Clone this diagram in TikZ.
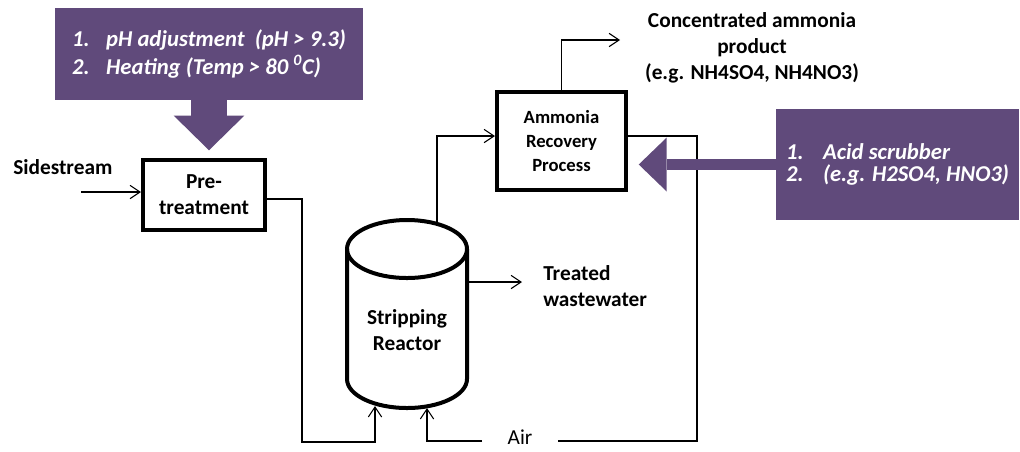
\documentclass[tikz,border=0pt]{standalone}
\usepackage{fontspec}
\setmainfont{Carlito}
\usetikzlibrary{arrows.meta,positioning}
\definecolor{infoviolet}{HTML}{604A7B}

\begin{document}
\begin{tikzpicture}[
  x=0.75pt, y=-0.75pt,
  every node/.style={font=\fontsize{16}{19.5}\selectfont\bfseries},
  unit/.style={rectangle, draw, line width=3pt, align=center, inner sep=0pt},
  info/.style={rectangle, fill=infoviolet, text=white, align=left, inner sep=0pt,
               font=\fontsize{17}{20.5}\selectfont\bfseries\itshape},
  note/.style={align=center, inner sep=0pt},
  stream/.style={-{Straight Barb[length=7.5pt, width=10pt]}, line width=0.8pt},
  pipe/.style={line width=0.8pt},
  vessel/.style={line width=3pt},
  blockarrow/.style={infoviolet, line width=#1},
]
\useasboundingbox (0,0) rectangle (1020,451);

% process units
\node[unit, minimum width=91.5pt, minimum height=52.5pt] (pre) at (204,195) {Pre-\\treatment};
\node[unit, minimum width=96.75pt, minimum height=73.5pt,
      font=\fontsize{14}{18}\selectfont\bfseries] (amm) at (561.5,141) {Ammonia\\Recovery\\Process};
\node[note] (reactor) at (407,330) {Stripping\\Reactor};
\draw[vessel] (347,249) -- (347,379) arc[start angle=180, end angle=0, x radius=60, y radius=29] -- (467,249);
\draw[vessel] (407,249) ellipse[x radius=60, y radius=29];

% operating conditions
\node[info, minimum width=231pt, minimum height=69pt] (heat) at (209,54)
  {\makebox[25.5pt][l]{1.}pH adjustment\ \ (pH > 9.3)\\[0pt]\makebox[25.5pt][l]{2.}Heating (Temp > 80 \textsuperscript{0}C)};
\node[info, minimum width=182.25pt, minimum height=83.25pt] (acid) at (897.5,164.5)
  {\makebox[27.75pt][l]{1.}Acid scrubber\\[-4pt]\makebox[27.75pt][l]{2.}(e.g. H2SO4, HNO3)};

% free ends of the streams
\coordinate (sidein) at (81,192);
\coordinate (feedturn) at (302,442);
\coordinate (rfeed) at (375,406);
\coordinate (rair) at (427,408);
\coordinate (rtop) at (437,223);
\coordinate (rside) at (467,282);
\coordinate (wasteend) at (522,282);
\coordinate (prodend) at (620,40);
\coordinate (loopturn) at (697,441);

% labels
\node[note, anchor=west] (side) at (13,167) {Sidestream};
\node[note] (prod) at (752,48) {Concentrated ammonia\\product\\(e.g. NH4SO4, NH4NO3)};
\node[note, align=left, right=15.75pt of wasteend, yshift=-3pt] (treated) {Treated\\wastewater};
\node[note, inner xsep=19pt, font=\fontsize{16}{19.5}\selectfont] (air) at (520,437) {Air};

% streams
\draw[stream] (sidein) -- (sidein -| pre.west);
\draw[stream] ([yshift=-3pt]pre.east) -| (feedturn) -| (rfeed);
\draw[stream] (rtop) |- ([yshift=3.75pt]amm.west);
\draw[stream] (amm.north) |- (prodend);
\draw[stream] (rside) -- (wasteend);
\draw[pipe] ([yshift=3.75pt]amm.east) -| (loopturn) -- (loopturn -| air.east);
\draw[stream] (air.west |- loopturn) -| (rair);

% block arrows
\draw[blockarrow=27pt, -{Triangle[length=26pt, width=53pt, line width=0pt]}] (heat.south) -- ++(0,50);
\draw[blockarrow=8.25pt, -{Triangle[length=21pt, width=40.5pt, line width=0pt]}] (acid.west) -- ++(-137,0);

\end{tikzpicture}
\end{document}
